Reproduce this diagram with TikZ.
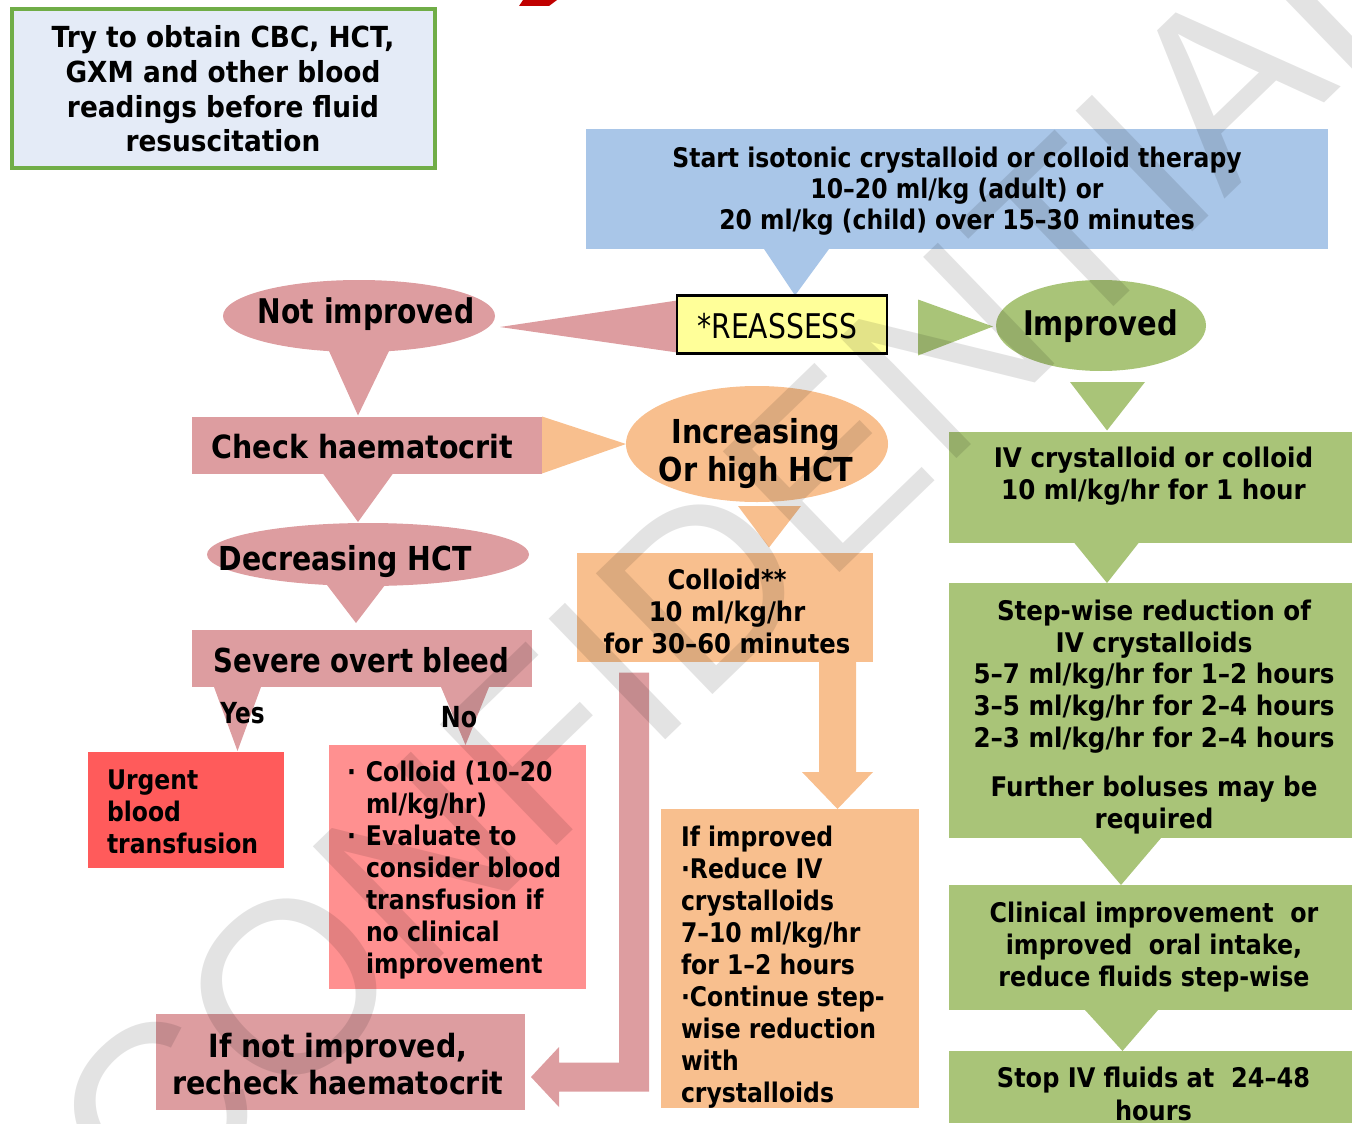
\documentclass[tikz,border=0pt]{standalone}
\usepackage{fontspec}
\setmainfont{DejaVu Sans}
\usetikzlibrary{calc,shapes.geometric}
\pgfdeclarelayer{background}
\pgfdeclarelayer{front}
\pgfsetlayers{background,main,front}

\definecolor{pinkc}{RGB}{221,157,160}
\definecolor{greenc}{RGB}{169,196,120}
\definecolor{orangec}{RGB}{248,191,142}
\definecolor{bluec}{RGB}{169,198,232}
\definecolor{paleblue}{RGB}{228,235,247}
\definecolor{frameg}{RGB}{112,173,71}
\definecolor{urgentc}{RGB}{255,91,91}
\definecolor{listc}{RGB}{255,144,144}
\definecolor{yellowc}{RGB}{255,255,153}
\definecolor{titlered}{RGB}{192,0,0}

% bold body font: horizontal stretch, size (pt), line spacing (pt)
\newcommand\bodyfont[3]{\fontspec{DejaVu Sans}[FakeStretch=#1]\fontsize{#2}{#3}\selectfont\bfseries}
\newcommand\plainfont[3]{\fontspec{DejaVu Sans}[FakeStretch=#1]\fontsize{#2}{#3}\selectfont}

\tikzset{
  box/.style={rectangle, inner sep=0pt, outer sep=0pt},
  oval/.style={ellipse, inner sep=0pt, outer sep=0pt},
  txt/.style={inner sep=0pt, outer sep=0pt, text=black},
}

\begin{document}
\begin{tikzpicture}[x=0.5pt, y=-0.5pt]
\useasboundingbox (0,0) rectangle (1352,1123);

% ---------- boxes and ovals ----------
\node[box, draw=frameg, line width=2pt, fill=paleblue, minimum width=211.5pt, minimum height=79.5pt] (obtain) at (223.5,88.5) {};
\node[box, fill=bluec, minimum width=371pt, minimum height=60pt] (start) at (957,189) {};
\node[box, draw=black, line width=1.2pt, fill=yellowc, minimum width=105pt, minimum height=29pt] (reassess) at (782,324.5) {};
\node[oval, fill=pinkc, minimum width=136pt, minimum height=36pt] (notimp) at (359,316) {};
\node[oval, fill=greenc, minimum width=105pt, minimum height=45.5pt] (improved) at (1101,325.5) {};
\node[box, fill=pinkc, minimum width=175pt, minimum height=28.5pt] (check) at (367,445) {};
\node[oval, fill=orangec, minimum width=131pt, minimum height=58pt] (incr) at (757,444) {};
\node[oval, fill=pinkc, minimum width=161pt, minimum height=31.5pt] (decr) at (368,554.5) {};
\node[box, fill=pinkc, minimum width=170pt, minimum height=28.5pt] (severe) at (362,658.5) {};
\node[box, fill=urgentc, minimum width=98pt, minimum height=58pt] (urgent) at (186,810) {};
\node[box, fill=listc, minimum width=128.5pt, minimum height=122pt] (fluidlist) at (457.5,867) {};
\node[box, fill=pinkc, minimum width=184.5pt, minimum height=48pt] (recheck) at (340.5,1062) {};
\node[box, fill=orangec, minimum width=148pt, minimum height=54.5pt] (colloid) at (725,607) {};
\node[box, fill=orangec, minimum width=129pt, minimum height=149.5pt] (ifimp) at (790,958.5) {};
\node[box, fill=greenc, minimum width=201.5pt, minimum height=55.5pt] (ivfluid) at (1150.5,487) {};
\node[box, fill=greenc, minimum width=201.5pt, minimum height=127.5pt] (stepdown) at (1150.5,710.5) {};
\node[box, fill=greenc, minimum width=201.5pt, minimum height=62.5pt] (clinical) at (1150.5,947.5) {};
\node[box, fill=greenc, minimum width=201.5pt, minimum height=36pt] (stopiv) at (1150.5,1087) {};

% ---------- texts ----------
\node[txt, align=center, font={\bodyfont{0.91}{14.5}{17.35}}] (t-obtain) at (223,89)
  {Try to obtain CBC, HCT,\\GXM and other blood\\readings before fluid\\resuscitation};
\node[txt, align=center, font={\bodyfont{0.87}{13.5}{15.5}}] (t-start) at (957,191)
  {Start isotonic crystalloid or colloid therapy\\10–20 ml/kg (adult) or\\20 ml/kg (child) over 15–30 minutes};
\node[txt, anchor=base, font={\plainfont{0.83}{17}{20}}] (t-reassess) at (777.5,338) {*REASSESS};
\node[txt, anchor=base, font={\bodyfont{0.83}{17}{20}}] (t-notimp) at (366,323) {Not improved};
\node[txt, anchor=base, font={\bodyfont{0.85}{17}{20}}] (t-improved) at (1100.5,335) {Improved};
\node[txt, anchor=base, font={\bodyfont{0.89}{16}{19}}] (t-check) at (362.5,458) {Check haematocrit};
\node[txt, align=center, font={\bodyfont{0.87}{16.5}{19.25}}] (t-incr) at (756,453.5) {Increasing\\Or high HCT};
\node[txt, anchor=base, font={\bodyfont{0.86}{16.5}{20}}] (t-decr) at (345,570) {Decreasing HCT};
\node[txt, anchor=base, font={\bodyfont{0.835}{16.5}{20}}] (t-severe) at (361.5,672) {Severe overt bleed};
\node[txt, anchor=base, font={\bodyfont{0.80}{14.5}{17}}] (t-yes) at (242.5,723) {Yes};
\node[txt, anchor=base, font={\bodyfont{0.82}{14.5}{17}}] (t-no) at (459,727) {No};
\node[txt, anchor=west, align=left, font={\bodyfont{0.87}{13.5}{15.85}}] (t-urgent) at (107,812)
  {Urgent\\blood\\transfusion};
\node[txt, anchor=west, align=left, font={\bodyfont{0.87}{13.5}{16}}] (t-list) at (366,870)
  {\llap{·\hskip5pt}Colloid (10–20\\ml/kg/hr)\\\llap{·\hskip5pt}Evaluate to\\consider blood\\transfusion if\\no clinical\\improvement};
\node[txt, align=center, font={\bodyfont{0.89}{16}{18.5}}] (t-recheck) at (338,1064)
  {If not improved,\\recheck haematocrit};
\node[txt, align=center, font={\bodyfont{0.90}{13.5}{16}}] (t-colloid) at (727,611)
  {Colloid**\\10 ml/kg/hr\\for 30–60 minutes};
\node[txt, anchor=west, align=left, font={\bodyfont{0.87}{13.5}{16}}] (t-ifimp) at (681,967)
  {If improved\\·Reduce IV\\crystalloids\\7–10 ml/kg/hr\\for 1–2 hours\\·Continue step-\\wise reduction\\with\\crystalloids};
\node[txt, align=center, font={\bodyfont{0.91}{13.5}{15.85}}] (t-iv) at (1153.5,476)
  {IV crystalloid or colloid\\10 ml/kg/hr for 1 hour};
\node[txt, align=center, font={\bodyfont{0.91}{13.5}{15.85}}] (t-step) at (1154,717)
  {Step-wise reduction of\\IV crystalloids\\5–7 ml/kg/hr for 1–2 hours\\3–5 ml/kg/hr for 2–4 hours\\2–3 ml/kg/hr for 2–4 hours\\[9pt]Further boluses may be\\required};
\node[txt, align=center, font={\bodyfont{0.88}{13.5}{16}}] (t-clinical) at (1154,947)
  {Clinical improvement~ or\\improved~ oral intake,\\reduce fluids step-wise};
\node[txt, align=center, font={\bodyfont{0.89}{13.5}{16.5}}] (t-stop) at (1153.5,1093.5)
  {Stop IV fluids at~ 24–48\\hours};

% ---------- wedge connectors and block arrows ----------
\begin{pgfonlayer}{background}
\fill[bluec] ($(start.south)+(-193,0)$) -- ($(start.south)+(-128,0)$) -- ($(reassess.north)+(13,0)$) -- cycle;
\fill[pinkc] ($(reassess.west)+(0,-24)$) -- ($(reassess.west)+(0,28)$) -- ($(notimp.east)+(5,11)$) -- cycle;
\fill[greenc] ($(reassess.east)+(31,-25)$) -- ($(reassess.east)+(31,31)$) -- ($(improved.west)+(-3,1)$) -- cycle;
\fill[pinkc] ($(notimp.south)+(-30,-1)$) -- ($(notimp.south)+(30,-1)$) -- ($(check.north)+(-9,-1)$) -- cycle;
\fill[orangec] (check.north east) -- (check.south east) -- (incr.west) -- cycle;
\fill[pinkc] ($(check.south)+(-44,0)$) -- ($(check.south)+(26,0)$) -- ($(decr.north)+(-10,-1)$) -- cycle;
\fill[pinkc] ($(decr.south)+(-41,-1)$) -- ($(decr.south)+(17,-1)$) -- ($(severe.north)+(-6,-7)$) -- cycle;
\fill[pinkc] ($(severe.south)+(-148,0)$) -- ($(severe.south)+(-101,0)$) -- ($(urgent.north)+(51.5,-1)$) -- cycle;
\fill[pinkc] ($(severe.south)+(79,0)$) -- ($(severe.south)+(127,0)$) -- ($(fluidlist.north)+(8,0)$) -- cycle;
\fill[orangec] ($(incr.south)+(-19,4)$) -- ($(incr.south)+(44,4)$) -- ($(colloid.north)+(44,-5)$) -- cycle;
\fill[greenc] ($(improved.south)+(-31,11)$) -- ($(improved.south)+(44,11)$) -- ($(ivfluid.north)+(-43.5,-1)$) -- cycle;
\fill[greenc] ($(ivfluid.south)+(-76.5,0)$) -- ($(ivfluid.south)+(-11.5,0)$) -- ($(stepdown.north)+(-43.5,0)$) -- cycle;
\fill[greenc] ($(stepdown.south)+(-69.5,0)$) -- ($(stepdown.south)+(10.5,0)$) -- ($(clinical.north)+(-29.5,0)$) -- cycle;
\fill[greenc] ($(clinical.south)+(-65.5,0)$) -- ($(clinical.south)+(7.5,0)$) -- ($(stopiv.north)+(-28,0)$) -- cycle;

% block arrow: colloid -> if improved
\coordinate (otop) at ($(colloid.south)+(112.5,0)$);
\coordinate (otip) at (otop |- ifimp.north);
\fill[orangec] ($(otop)+(-18.5,-1)$) -- ($(otop)+(18.5,-1)$) -- ($(otip)+(18.5,-37)$)
  -- ($(otip)+(35.5,-37)$) -- (otip) -- ($(otip)+(-35.5,-37)$) -- ($(otip)+(-18.5,-37)$) -- cycle;

% bent block arrow: down the middle, back to the recheck box
\coordinate (rtop) at ($(colloid.south)+(-91,11)$);
\coordinate (rtip) at ($(recheck.east)+(6,15)$);
\coordinate (rbend) at (rtop |- rtip);
\fill[pinkc] ($(rtop)+(-15,0)$) -- ($(rtop)+(15,0)$) -- ($(rbend)+(15,14.5)$) -- ($(rtip)+(28,14.5)$)
  -- ($(rtip)+(28,30)$) -- (rtip) -- ($(rtip)+(28,-30)$) -- ($(rtip)+(28,-14.5)$)
  -- ($(rbend)+(-15,-14.5)$) -- cycle;

% foot of the title lettering above the chart
\fill[titlered] (523,0) -- (557,0) -- (549,6) -- (519,6) -- cycle;
\end{pgfonlayer}

% ---------- watermark ----------
\begin{pgfonlayer}{front}
\node[anchor=base west, rotate=44, inner sep=0pt, text=black, opacity=0.11, text opacity=0.11,
      font={\fontspec{Liberation Sans}\fontsize{122}{140}\selectfont}] (stamp) at (152,1236) {CONFIDENTIAL};
\end{pgfonlayer}
\end{tikzpicture}
\end{document}
